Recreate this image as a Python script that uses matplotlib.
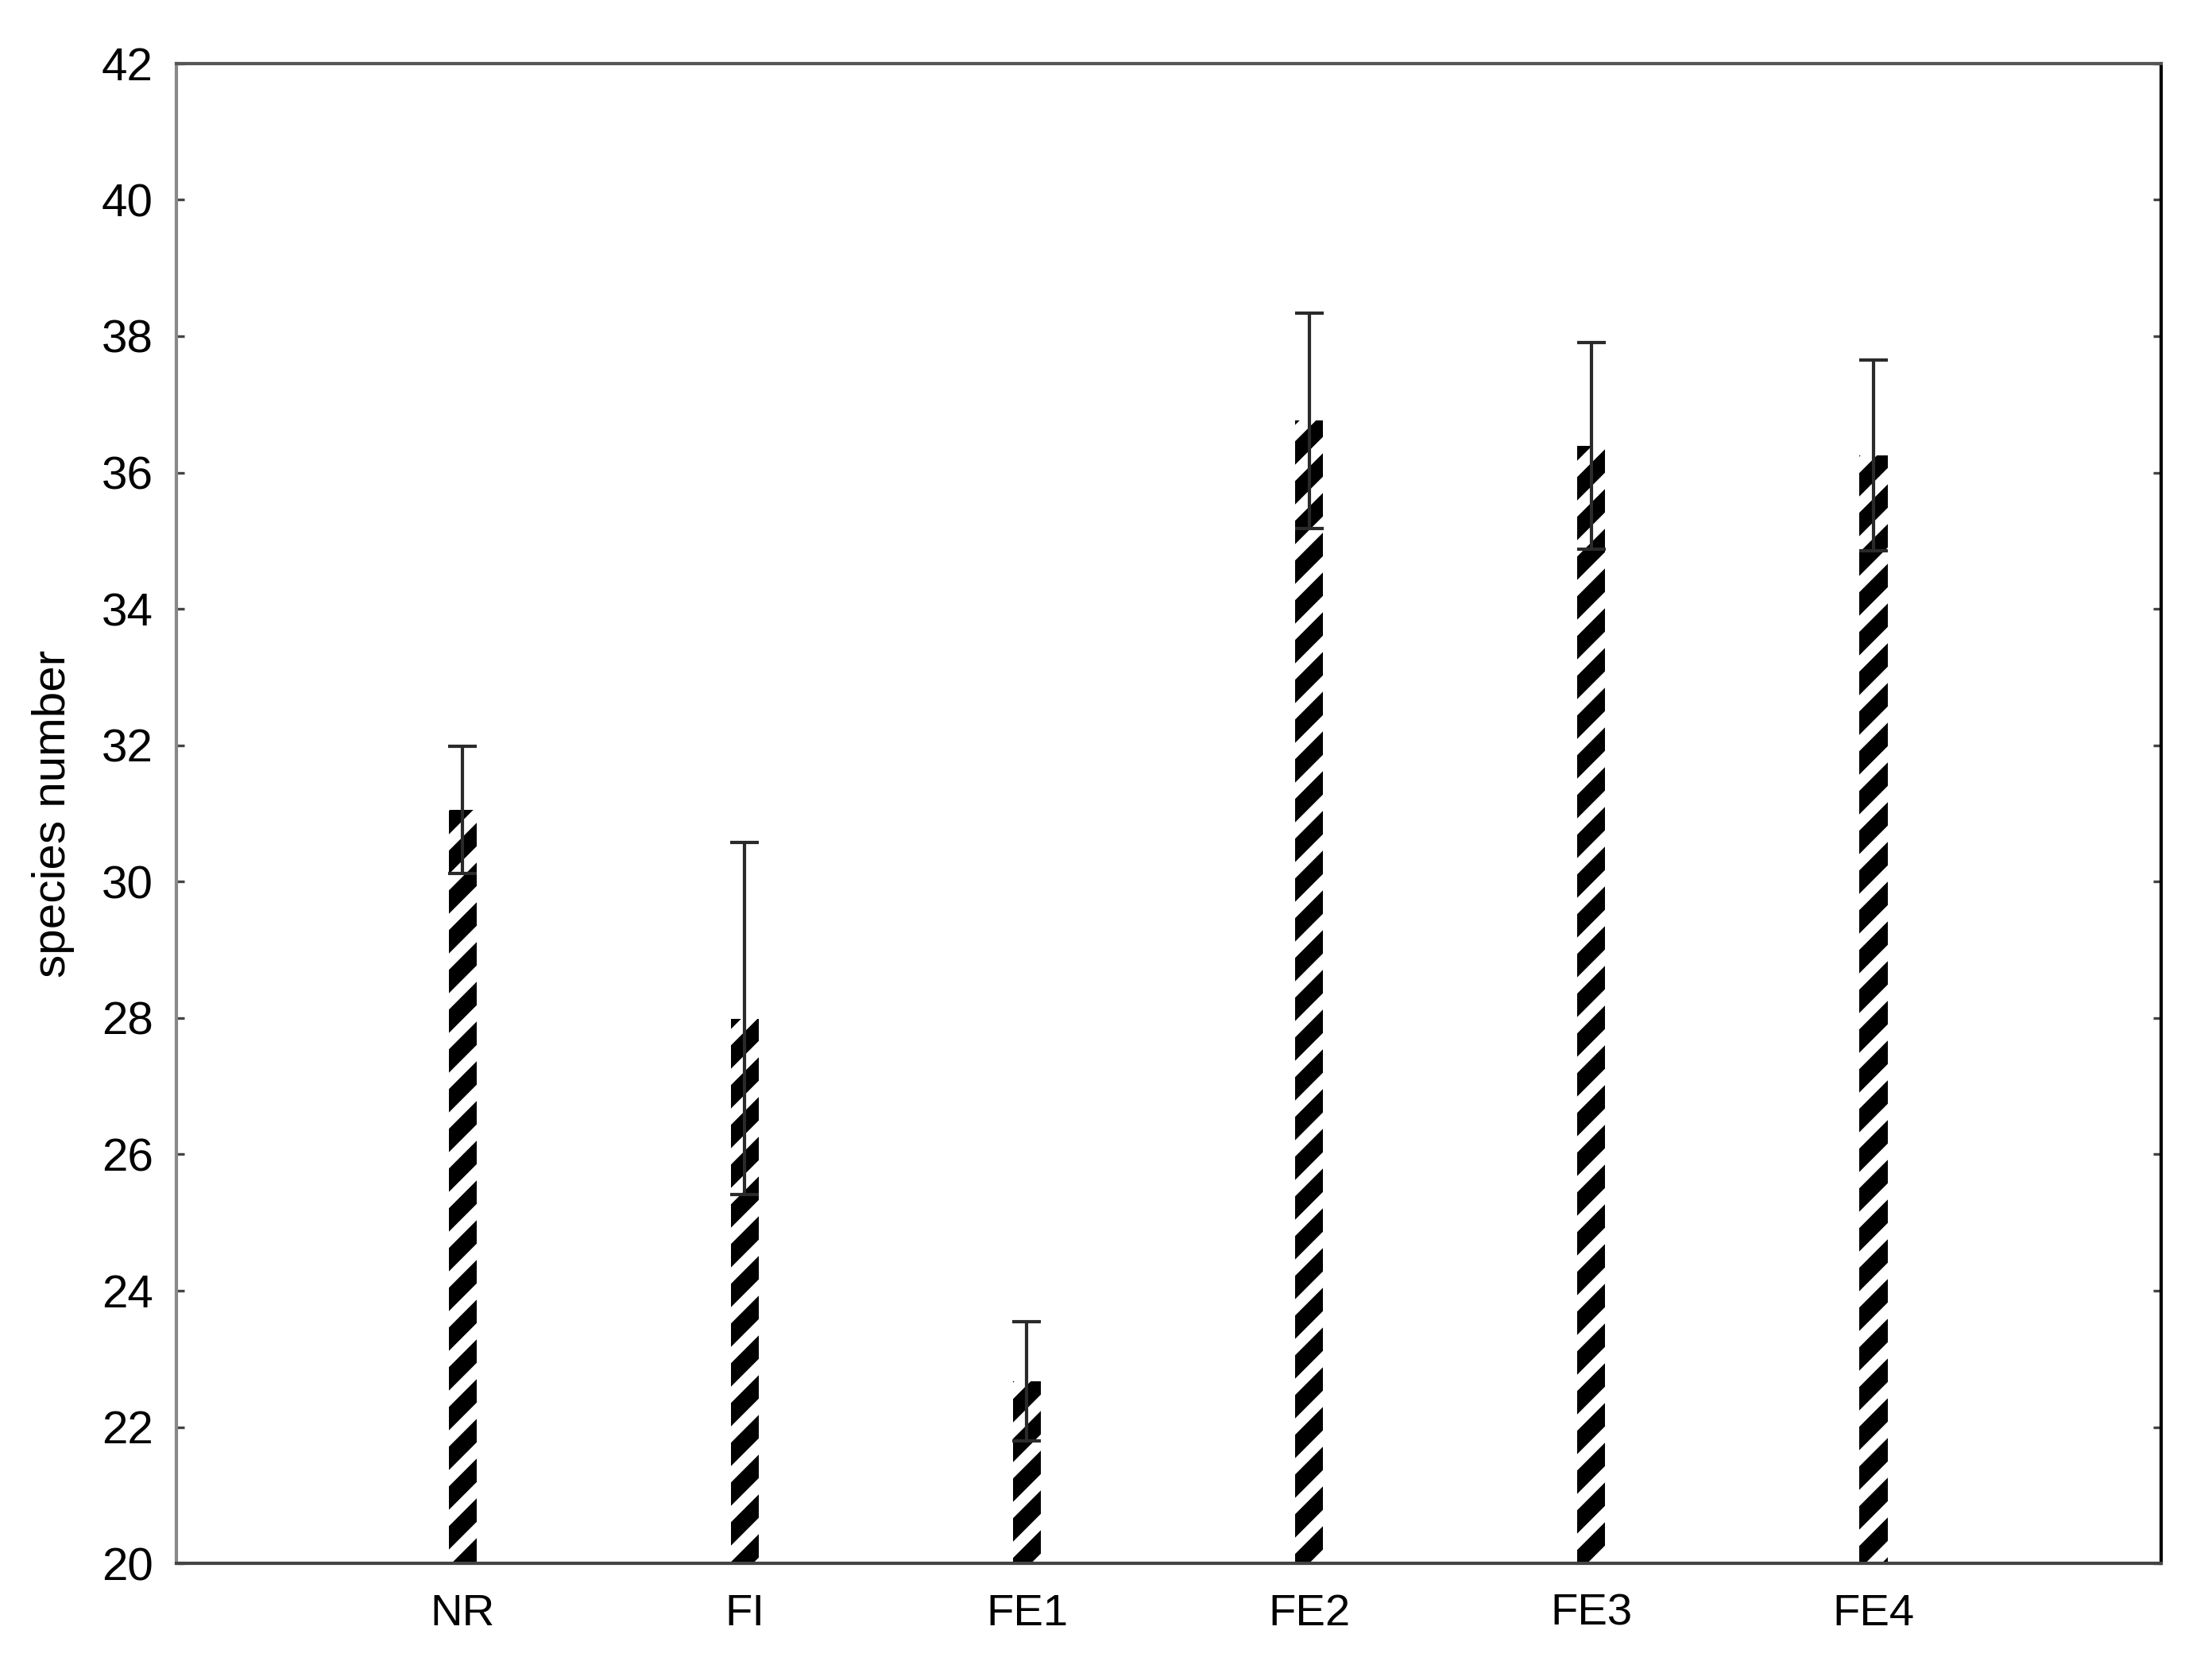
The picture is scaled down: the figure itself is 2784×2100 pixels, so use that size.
import numpy as np
import matplotlib.pyplot as plt

plt.rcParams['font.family'] = ['Liberation Sans', 'DejaVu Sans']
plt.rcParams['hatch.linewidth'] = 5
plt.rcParams['hatch.color'] = 'black'

# données
sites = ['NR', 'FI', 'FE1', 'FE2', 'FE3', 'FE4']
moyennes = [31.05, 27.99, 22.67, 36.76, 36.39, 36.25]
erreurs = [0.93, 2.58, 0.87, 1.58, 1.52, 1.40]

x = np.arange(len(sites))

fig = plt.figure(figsize=(9.28, 7), dpi=300)
ax = fig.add_axes([0.0797, 0.0633, 0.8973, 0.8987])

ax.bar(x, np.array(moyennes) - 20, bottom=20, width=0.1, color='white',
       edgecolor='black', linewidth=0, hatch='//', zorder=2)
ax.errorbar(x, moyennes, yerr=erreurs, fmt='none', ecolor='#2a2a2a',
            elinewidth=1.0, capsize=4.3, capthick=1.0, zorder=3)

ax.set_xlim(-1.015, 6.02)
ax.set_ylim(20, 42)
ax.set_yticks(np.arange(20, 43, 2))
ax.set_xticks(x)
ax.set_xticklabels(sites)
ax.tick_params(axis='y', direction='in', length=2.5, width=0.8, color='#444444',
               right=True, labelsize=14, pad=7)
ax.tick_params(axis='x', length=0, labelsize=13.5, pad=9)
ax.spines['left'].set_color('#888888')
ax.spines['bottom'].set_color('#444444')
ax.spines['top'].set_color('#555555')
ax.spines['right'].set_color('black')
for s in ax.spines.values():
    s.set_linewidth(1.0)
ax.set_ylabel('species number', fontsize=14, labelpad=8)

fig.savefig('out.png')
